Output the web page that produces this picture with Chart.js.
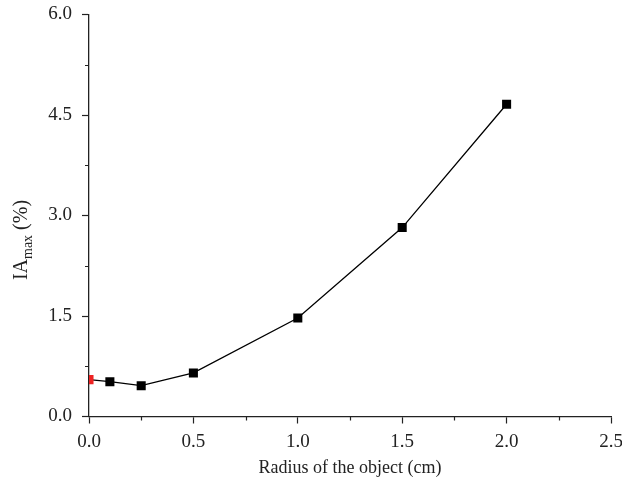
<!DOCTYPE html>
<html>
<head>
<meta charset="utf-8">
<script src="https://cdn.jsdelivr.net/npm/chart.js@4.4.1/dist/chart.umd.min.js"></script>
<style>
  html, body { margin: 0; padding: 0; background: #fff; }
  #wrap { width: 622px; height: 488px; }
</style>
</head>
<body>
<div id="wrap"><canvas id="chart"></canvas></div>
<script>
  // data
  const radius = [0, 0.1, 0.25, 0.5, 1.0, 1.5, 2.0];          // cm
  const iaMax  = [0.55, 0.52, 0.46, 0.65, 1.47, 2.82, 4.66];  // %
  const pointColors = ['#ee2222', '#000', '#000', '#000', '#000', '#000', '#000'];

  const xMajor = [0, 0.5, 1.0, 1.5, 2.0, 2.5];
  const xMinor = [0.25, 0.75, 1.25, 1.75, 2.25];
  const yMajor = [0, 1.5, 3.0, 4.5, 6.0];
  const yMinor = [0.75, 2.25, 3.75, 5.25];

  const serif = '"Liberation Serif", "DejaVu Serif", serif';
  const axisColor = '#222';

  // let the layout padding alone decide the plot edges
  function noOverhang(s) {
    s.paddingTop = 0; s.paddingBottom = 0; s.paddingLeft = 0; s.paddingRight = 0;
  }

  // minor ticks, placed through the scales
  const minorTicks = {
    id: 'minorTicks',
    afterDraw(chart) {
      const { ctx, scales: { x, y } } = chart;
      ctx.save();
      ctx.strokeStyle = axisColor;
      ctx.lineWidth = 1.2;
      ctx.beginPath();
      xMinor.forEach(v => {
        const px = Math.round(x.getPixelForValue(v)) + 0.5;
        ctx.moveTo(px, y.bottom);
        ctx.lineTo(px, y.bottom + 4);
      });
      yMinor.forEach(v => {
        const py = Math.round(y.getPixelForValue(v)) + 0.5;
        ctx.moveTo(x.left, py);
        ctx.lineTo(x.left - 4, py);
      });
      ctx.stroke();
      ctx.restore();
    }
  };

  // y title with subscript "max"
  const yTitle = {
    id: 'yTitle',
    afterDraw(chart) {
      const { ctx } = chart;
      const big = '20px ' + serif, small = '14px ' + serif;
      const parts = [['IA', big, 0], ['max', small, 6], [' (%)', big, 0]];
      ctx.save();
      ctx.fillStyle = axisColor;
      let total = 0;
      parts.forEach(p => { ctx.font = p[1]; total += ctx.measureText(p[0]).width; });
      ctx.translate(22, 240);
      ctx.rotate(-Math.PI / 2);
      ctx.textBaseline = 'middle';
      let cx = -total / 2;
      parts.forEach(p => {
        ctx.font = p[1];
        ctx.fillText(p[0], cx, p[2]);
        cx += ctx.measureText(p[0]).width;
      });
      ctx.restore();
    }
  };

  new Chart(document.getElementById('chart'), {
    type: 'line',
    data: {
      datasets: [{
        data: radius.map((r, i) => ({ x: r, y: iaMax[i] })),
        borderColor: '#000',
        borderWidth: 1.3,
        pointStyle: 'rect',
        pointRadius: 6.4,
        pointHoverRadius: 6.4,
        pointBackgroundColor: pointColors,
        pointBorderColor: pointColors,
        pointBorderWidth: 0,
        tension: 0
      }]
    },
    options: {
      responsive: true,
      maintainAspectRatio: false,
      animation: false,
      layout: { padding: { top: 14.5, right: 11, left: 0, bottom: 0 } },
      plugins: { legend: { display: false }, tooltip: { enabled: false } },
      scales: {
        x: {
          type: 'linear',
          min: 0, max: 2.5,
          afterBuildTicks: s => { s.ticks = xMajor.map(v => ({ value: v })); },
          afterFit: s => { s.height = 71.5; noOverhang(s); },
          grid: { drawOnChartArea: false, drawTicks: true, tickLength: 7, tickColor: axisColor, tickWidth: 1.2 },
          border: { display: true, color: axisColor, width: 1.3 },
          ticks: {
            color: axisColor, padding: 7,
            font: { family: serif, size: 19 },
            maxRotation: 0,
            callback: v => Number(v).toFixed(1)
          },
          title: {
            display: true, text: 'Radius of the object (cm)', color: axisColor,
            font: { family: serif, size: 18 }, padding: { top: 4, bottom: 9 }
          }
        },
        y: {
          min: 0, max: 6,
          afterBuildTicks: s => { s.ticks = yMajor.map(v => ({ value: v })); },
          afterFit: s => { s.width = 89; noOverhang(s); },
          grid: { drawOnChartArea: false, drawTicks: true, tickLength: 7, tickColor: axisColor, tickWidth: 1.2 },
          border: { display: true, color: axisColor, width: 1.3 },
          ticks: {
            color: axisColor, padding: 10,
            font: { family: serif, size: 19 },
            callback: v => Number(v).toFixed(1)
          }
        }
      }
    },
    plugins: [minorTicks, yTitle]
  });
</script>
</body>
</html>
